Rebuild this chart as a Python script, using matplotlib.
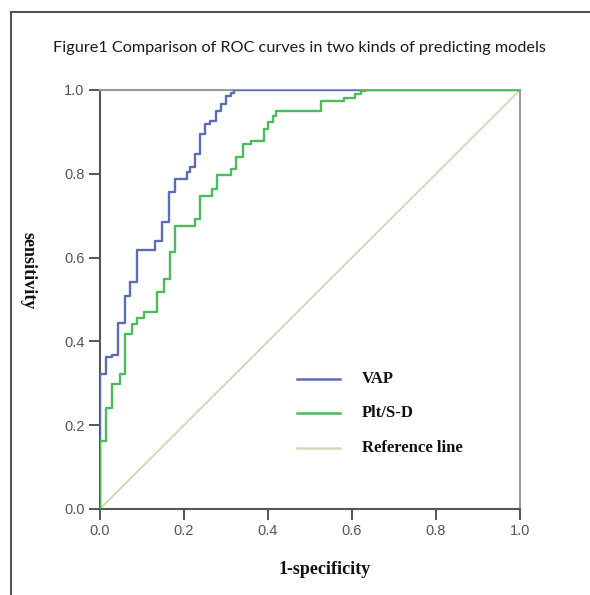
import matplotlib
matplotlib.use("Agg")
import matplotlib.pyplot as plt
from matplotlib.lines import Line2D

# ---- data ----
vap_fpr = [0.0, 0.0, 0.014, 0.028, 0.044, 0.060, 0.072, 0.088, 0.132, 0.148, 0.165,
           0.179, 0.207, 0.215, 0.227, 0.239, 0.251, 0.263, 0.275, 0.287, 0.299,
           0.311, 0.318, 1.0]
vap_tpr = [0.0, 0.322, 0.362, 0.367, 0.445, 0.509, 0.541, 0.617, 0.640, 0.684, 0.756,
           0.788, 0.804, 0.816, 0.847, 0.895, 0.919, 0.927, 0.950, 0.967, 0.986,
           0.994, 1.0, 1.0]

plt_fpr = [0.0, 0.0, 0.014, 0.028, 0.048, 0.060, 0.076, 0.088, 0.104, 0.136, 0.152,
           0.166, 0.179, 0.227, 0.239, 0.267, 0.279, 0.311, 0.323, 0.341, 0.359,
           0.391, 0.399, 0.411, 0.419, 0.526, 0.582, 0.606, 0.622, 0.630, 1.0]
plt_tpr = [0.0, 0.163, 0.240, 0.298, 0.322, 0.418, 0.442, 0.457, 0.469, 0.517, 0.549,
           0.613, 0.676, 0.692, 0.748, 0.764, 0.796, 0.811, 0.839, 0.871, 0.879,
           0.907, 0.923, 0.939, 0.951, 0.974, 0.982, 0.990, 0.998, 1.0, 1.0]

ref_x = [0.0, 1.0]
ref_y = [0.0, 1.0]

ticks = [0.0, 0.2, 0.4, 0.6, 0.8, 1.0]
tick_labels = ["0.0", "0.2", "0.4", "0.6", "0.8", "1.0"]
series_names = ["VAP", "Plt/S-D", "Reference line"]

title = "Figure1 Comparison of ROC curves in two kinds of predicting models"
xlabel = "1-specificity"
ylabel = "sensitivity"

c_vap = "#5b6db4"
c_plt = "#4dba5e"
c_ref = "#d9d6b2"

# ---- figure ----
fig = plt.figure(figsize=(5.9, 5.95), dpi=100)
ax = fig.add_axes([100/590, 86/595, 420/590, 419/595])

ax.plot(ref_x, ref_y, color=c_ref, lw=1.4, zorder=2)
ax.plot(vap_fpr, vap_tpr, color=c_vap, lw=1.7, drawstyle="steps-post", zorder=3)
ax.plot(plt_fpr, plt_tpr, color=c_plt, lw=1.7, drawstyle="steps-post", zorder=4)

ax.set_xlim(0, 1)
ax.set_ylim(0, 1)
ax.set_xticks(ticks)
ax.set_xticklabels(tick_labels)
ax.set_yticks(ticks)
ax.set_yticklabels(tick_labels)
ax.tick_params(direction="out", length=8, width=1.4, color="#555555",
               labelcolor="#555555", labelsize=10.5, pad=3)
for lab in ax.get_xticklabels() + ax.get_yticklabels():
    lab.set_family("Liberation Sans")

for s in ["left", "bottom"]:
    ax.spines[s].set_color("#555555")
    ax.spines[s].set_linewidth(1.5)
for s in ["top", "right"]:
    ax.spines[s].set_color("#9a9a9a")
    ax.spines[s].set_linewidth(1.5)

fig.text(0.508, 1 - 48/595, title, ha="center", va="center",
         family="Lato", fontsize=11.7, color="#1a1a1a")
fig.text(325/590, 1 - 570/595, xlabel, ha="center", va="center",
         family="Liberation Serif", fontweight="bold", fontsize=13, color="#111111")
fig.text(28/590, 1 - 271/595, ylabel, ha="center", va="center", rotation=270,
         family="Liberation Serif", fontweight="bold", fontsize=13, color="#111111")

# custom legend
leg_colors = [c_vap, c_plt, c_ref]
leg_y = [379, 413, 448]
for name, col, yy in zip(series_names, leg_colors, leg_y):
    fy = 1 - yy/595
    fig.add_artist(Line2D([297/590, 340/590], [fy, fy], color=col, lw=1.8))
    fig.text(362/590, fy, name, ha="left", va="center", family="Liberation Serif",
             fontweight="bold", fontsize=12, color="#111111")

# outer frame (left and top edges)
fig.add_artist(Line2D([11/590, 11/590], [0, 1 - 12/595], color="#555555", lw=1.5))
fig.add_artist(Line2D([11/590, 1], [1 - 12/595, 1 - 12/595], color="#555555", lw=1.5))

fig.savefig("out.png", dpi=100)
